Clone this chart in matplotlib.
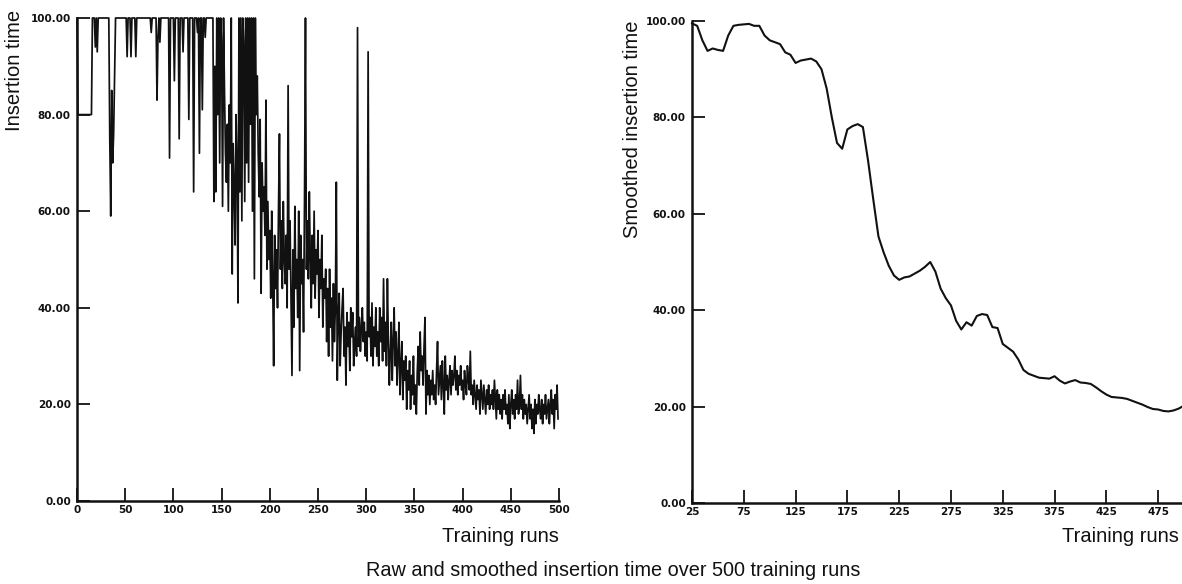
import matplotlib.pyplot as plt
import numpy as np

plt.rcParams["font.family"] = ["Liberation Sans", "DejaVu Sans"]

W, H = 1182, 584

# raw insertion time, one value per training run (0..499)
raw_time = [
    100, 80, 80, 80, 80, 80, 80, 80, 80, 80,
    80, 80, 80, 80, 80, 80, 100, 100, 100, 94,
    100, 93, 100, 100, 100, 100, 100, 100, 100, 100,
    100, 100, 100, 100, 75, 59, 85, 70, 76, 88,
    100, 100, 100, 100, 100, 100, 100, 100, 100, 100,
    100, 100, 92, 100, 100, 100, 92, 100, 100, 100,
    100, 92, 100, 100, 100, 100, 100, 100, 100, 100,
    100, 100, 100, 100, 100, 100, 100, 97, 100, 100,
    100, 100, 100, 83, 96, 100, 95, 100, 100, 100,
    100, 100, 100, 100, 100, 100, 71, 100, 100, 100,
    100, 87, 100, 100, 100, 100, 75, 100, 100, 100,
    93, 100, 100, 100, 100, 100, 79, 100, 100, 100,
    100, 64, 100, 100, 100, 97, 100, 72, 100, 100,
    81, 100, 100, 96, 100, 100, 100, 100, 100, 100,
    100, 100, 62, 90, 64, 100, 80, 100, 70, 100,
    95, 61, 100, 85, 72, 66, 78, 60, 82, 70,
    100, 47, 74, 65, 53, 80, 70, 41, 100, 64,
    100, 58, 100, 95, 62, 100, 70, 100, 66, 100,
    78, 100, 60, 100, 46, 100, 80, 88, 72, 63,
    79, 43, 70, 60, 65, 55, 83, 48, 62, 50,
    56, 42, 60, 46, 28, 55, 44, 52, 40, 60,
    76, 48, 58, 44, 62, 50, 45, 55, 40, 86,
    48, 58, 42, 26, 52, 36, 61, 44, 50, 38,
    60, 27, 55, 45, 50, 35, 62, 100, 48, 58,
    46, 64, 50, 40, 55, 45, 60, 42, 52, 47,
    56, 38, 50, 44, 55, 36, 46, 42, 48, 33,
    44, 30, 48, 36, 42, 29, 45, 33, 40, 66,
    25, 38, 43, 28, 35, 40, 44, 30, 36, 24,
    39, 32, 37, 27, 40, 34, 39, 28, 33, 36,
    30, 98, 32, 38, 31, 36, 40, 33, 37, 30,
    35, 29, 93, 34, 38, 30, 41, 28, 36, 32,
    40, 30, 35, 28, 40, 33, 38, 29, 46, 31,
    37, 28, 46, 33, 24, 31, 37, 25, 33, 40,
    28, 35, 24, 30, 37, 22, 28, 33, 21, 29,
    25, 30, 19, 27, 23, 29, 19, 26, 22, 30,
    20, 24, 18, 27, 32, 24, 35, 27, 30, 24,
    32, 38, 18, 27, 22, 26, 20, 25, 22, 27,
    21, 24, 20, 27, 33, 22, 25, 28, 21, 29,
    24, 18, 30, 23, 26, 21, 25, 28, 22, 27,
    24, 26, 30, 23, 27, 22, 26, 24, 28, 23,
    25, 21, 27, 24, 22, 28, 25, 23, 31, 22,
    24, 20, 25, 22, 19, 24, 21, 23, 18, 25,
    22, 19, 24, 21, 18, 23, 20, 24, 19, 22,
    20, 23, 19, 25, 21, 17, 23, 19, 22, 18,
    21, 17, 22, 19, 23, 18, 20, 16, 22, 15,
    20, 23, 18, 21, 17, 22, 19, 25, 18, 20,
    26, 19, 22, 17, 21, 18, 20, 16, 19, 22,
    17, 20, 15, 19, 14, 21, 16, 20, 18, 22,
    19, 17, 21, 16, 20, 18, 22, 17, 19, 21,
    16, 20, 23, 18, 21, 15, 22, 19, 24, 17,
]
raw_runs = np.arange(len(raw_time))

# smoothed insertion time, read every 5 runs from run 25 to 500
smooth_time = [
    99.5, 99.0, 96.0, 93.8, 94.3, 94.0, 93.8, 97.0, 99.0, 99.2,
    99.3, 99.4, 99.0, 99.0, 97.0, 96.0, 95.6, 95.2, 93.5, 93.0,
    91.3, 91.8, 92.0, 92.2, 91.6, 90.0, 86.0, 80.0, 74.7, 73.5,
    77.5, 78.2, 78.6, 78.0, 71.0, 63.0, 55.3, 52.0, 49.2, 47.2,
    46.3, 46.8, 47.0, 47.6, 48.2, 49.0, 50.0, 48.0, 44.5, 42.5,
    41.0, 37.8, 36.0, 37.5, 36.8, 38.8, 39.2, 39.0, 36.5, 36.3,
    33.0, 32.2, 31.4, 29.8, 27.6, 26.8, 26.4, 26.0, 25.9, 25.8,
    26.3, 25.4, 24.8, 25.2, 25.5, 25.0, 24.9, 24.7, 24.0, 23.2,
    22.5, 22.0, 21.9, 21.8, 21.6, 21.2, 20.8, 20.4, 19.9, 19.5,
    19.4, 19.1, 19.0, 19.2, 19.6, 20.2,
]
smooth_runs = np.arange(25, 25 + 5 * len(smooth_time), 5)

left_ticks = [0, 50, 100, 150, 200, 250, 300, 350, 400, 450, 500]
right_ticks = [25, 75, 125, 175, 225, 275, 325, 375, 425, 475]
y_ticks = [0, 20, 40, 60, 80, 100]

INK = "#111111"


def px_axes(fig, x0, y_top, x1, y_bottom):
    """Axes from pixel box (top-left origin)."""
    return fig.add_axes([x0 / W, 1 - y_bottom / H, (x1 - x0) / W, (y_bottom - y_top) / H])


def style_axes(ax, xticks):
    for side in ("top", "right"):
        ax.spines[side].set_visible(False)
    for side in ("left", "bottom"):
        ax.spines[side].set_linewidth(1.8)
        ax.spines[side].set_color(INK)
    ax.set_ylim(0, 100)
    ax.set_yticks(y_ticks)
    ax.set_yticklabels([f"{v:.2f}" for v in y_ticks])
    ax.set_xticks(xticks)
    ax.set_xticklabels([str(v) for v in xticks])
    ax.tick_params(axis="both", direction="in", length=9.5, width=1.3, color=INK,
                   labelcolor=INK)
    ax.tick_params(axis="y", pad=4.5)
    ax.tick_params(axis="x", pad=3)
    for lab in ax.get_xticklabels() + ax.get_yticklabels():
        lab.set_fontfamily("DejaVu Sans")
        lab.set_fontweight("bold")
        lab.set_fontsize(7.5)


fig = plt.figure(figsize=(W / 100, H / 100), dpi=100)

ax1 = px_axes(fig, 77, 18, 559, 501)
ax1.plot(raw_runs, raw_time, color=INK, linewidth=1.25, clip_on=False)
ax1.set_xlim(0, 500)
style_axes(ax1, left_ticks)

ax2 = px_axes(fig, 692, 21, 1184, 503)
ax2.plot(smooth_runs, smooth_time, color=INK, linewidth=1.5, clip_on=False)
ax2.set_xlim(25, 500)
style_axes(ax2, right_ticks)

fig.text(15 / W, 1 - 70 / H, "Insertion time", rotation=90, ha="center", va="center",
         fontsize=14.5, color=INK)
fig.text(632 / W, 1 - 129 / H, "Smoothed insertion time", rotation=90, ha="center",
         va="center", fontsize=14.5, color=INK)
fig.text(559 / W, 1 - 536 / H, "Training runs", ha="right", va="center", fontsize=14.5,
         color=INK)
fig.text(1179 / W, 1 - 536 / H, "Training runs", ha="right", va="center", fontsize=14.5,
         color=INK)
fig.text(613 / W, 1 - 571 / H, "Raw and smoothed insertion time over 500 training runs",
         ha="center", va="center", fontsize=14.3, color=INK)

fig.savefig("out.png", dpi=100)
